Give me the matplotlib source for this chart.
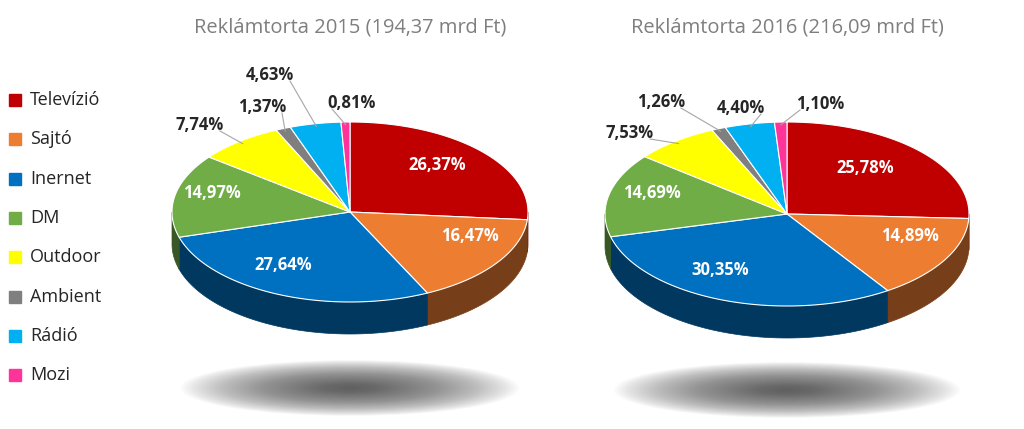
import numpy as np
import matplotlib
matplotlib.use("Agg")
import matplotlib.pyplot as plt
from matplotlib.colors import to_rgb

plt.rcParams["font.family"] = "Open Sans"

categories = ["Televízió", "Sajtó", "Inernet", "DM", "Outdoor", "Ambient", "Rádió", "Mozi"]
colors = ["#C00000", "#ED7D31", "#0070C0", "#70AD47", "#FFFF00", "#7F7F7F", "#00B0F0", "#FF3399"]
values_2015 = [26.37, 16.47, 27.64, 14.97, 7.74, 1.37, 4.63, 0.81]
values_2016 = [25.78, 14.89, 30.35, 14.69, 7.53, 1.26, 4.40, 1.10]
titles = ["Reklámtorta 2015 (194,37 mrd Ft)", "Reklámtorta 2016 (216,09 mrd Ft)"]

# label positions in pixels (inner labels white, outer black)
labels_2015 = [(437, 165), (470, 236), (283, 265), (212, 193), (200, 125), (262, 107), (270, 75), (352, 103)]
labels_2016 = [(865, 168), (910, 236), (720, 270), (652, 193), (630, 133), (661, 102), (741, 108), (820, 104)]
inner = [True, True, True, True, False, False, False, False]

fig = plt.figure(figsize=(10.24, 4.29), dpi=100)
ax = fig.add_axes([0, 0, 1, 1])
ax.set_xlim(0, 1024)
ax.set_ylim(429, 0)
ax.axis("off")


def pt(cx, cy, rx, ry, t):
    t = np.radians(t)
    return cx + rx * np.cos(t), cy - ry * np.sin(t)


def draw_pie(values, cx, cy, rx, ry, depth, lab_pos, title):
    # soft shadow
    n = 60
    for k in range(n):
        f = 1 - k / n
        e = matplotlib.patches.Ellipse((cx, cy + 176), 2 * rx * 0.95 * f, 56 * f,
                                       color="#404040", alpha=0.025, lw=0)
        ax.add_patch(e)
    total = sum(values)
    starts = []
    t0 = 90.0
    for v in values:
        t1 = t0 - 360 * v / total
        starts.append((t0, t1))
        t0 = t1
    # sides (front half: -180..0)
    for (a0, a1), c in zip(starts, colors):
        lo, hi = max(a1, -180), min(a0, 0)
        if hi <= lo:
            continue
        ts = np.linspace(hi, lo, 60)
        xs, ys = pt(cx, cy, rx, ry, ts)
        px = np.concatenate([xs, xs[::-1]])
        py = np.concatenate([ys, ys[::-1] + depth])
        dark = tuple(np.array(to_rgb(c)) * 0.5)
        ax.fill(px, py, color=dark, lw=0.5, ec=dark, zorder=2)
    # top faces
    for (a0, a1), c in zip(starts, colors):
        ts = np.linspace(a0, a1, 120)
        xs, ys = pt(cx, cy, rx, ry, ts)
        ax.fill(np.r_[cx, xs], np.r_[cy, ys], color=c, ec="white", lw=0.8, zorder=3)
    # labels
    for i, ((a0, a1), (lx, ly), v) in enumerate(zip(starts, lab_pos, values)):
        txt = f"{v:.2f}".replace(".", ",") + "%"
        if inner[i]:
            ax.text(lx, ly, txt, color="white", fontsize=12, fontweight="bold",
                    ha="center", va="center", zorder=5)
        else:
            ax.text(lx, ly, txt, color="#262626", fontsize=12, fontweight="bold",
                    ha="center", va="center", zorder=5)
            mx, my = pt(cx, cy, rx * 0.97, ry * 0.97, (a0 + a1) / 2)
            ax.plot([lx + 20 * np.sign(mx - lx), mx], [ly + 6, my], color="#A6A6A6",
                    lw=0.8, zorder=4)
    ax.text(cx, 28, title, color="#7F7F7F", fontsize=14.5, ha="center", va="center")


draw_pie(values_2015, 350, 212, 178, 90, 32, labels_2015, titles[0])
draw_pie(values_2016, 787, 214, 182, 92, 32, labels_2016, titles[1])

# legend
for i, (name, c) in enumerate(zip(categories, colors)):
    y = 100 + i * 39.3
    ax.add_patch(matplotlib.patches.Rectangle((9, y - 6), 12, 12, color=c))
    ax.text(30, y, name, fontsize=13, color="#262626", va="center", ha="left")

fig.savefig("out.png", dpi=100)
